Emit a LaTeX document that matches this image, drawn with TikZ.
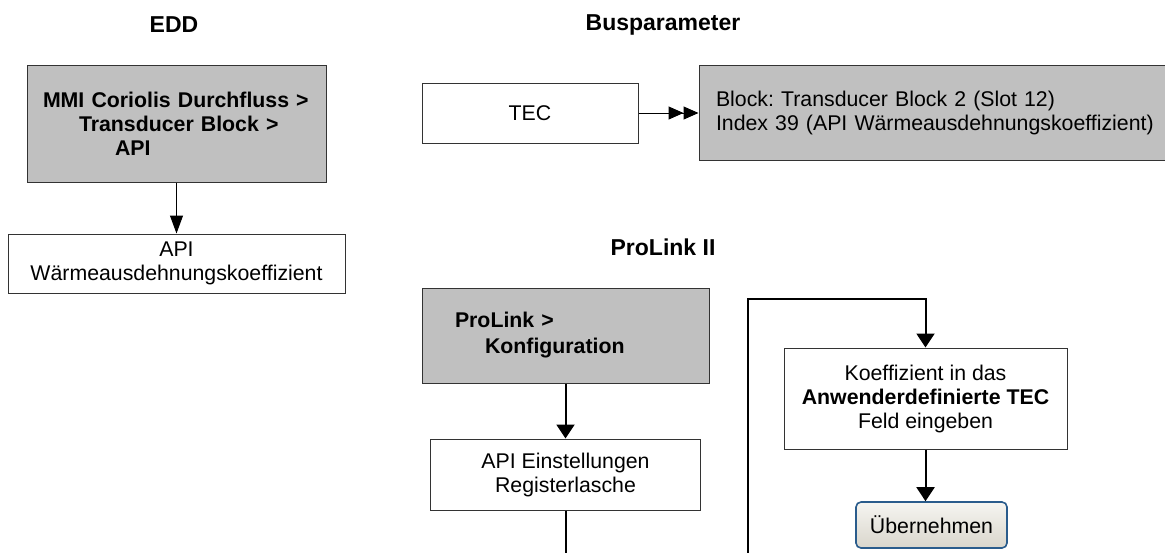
\documentclass[tikz,border=0pt]{standalone}
\usepackage{fontspec}
\setmainfont{Liberation Sans}
\usetikzlibrary{arrows.meta,positioning}
\definecolor{menugray}{HTML}{C0C0C0}
\definecolor{framegray}{HTML}{333333}
\definecolor{buttonblue}{HTML}{2A5C8C}
\definecolor{buttontop}{HTML}{F6F5F1}
\definecolor{buttonbot}{HTML}{D9D6CC}

\begin{document}
\frenchspacing
\begin{tikzpicture}[
    x=0.5pt, y=-0.5pt,
    every node/.style={font=\fontsize{10.65}{12}\selectfont},
    title/.style={
        font=\bfseries\fontsize{11.5}{13}\selectfont
    },
    box/.style={
        draw=framegray,
        line width=0.5pt,
        align=center,
        inner sep=0pt
    },
    graybox/.style={
        box,
        fill=menugray,
        align=left
    },
    button/.style={
        draw=buttonblue,
        line width=0.8pt,
        rounded corners=2.5pt,
        top color=buttontop,
        bottom color=buttonbot,
        inner sep=0pt
    },
    arrow/.style={
        -{Triangle[length=9pt,width=6.5pt]},
        line width=0.5pt
    },
    flow/.style={
        -{Triangle[length=7pt,width=9pt]},
        line width=1pt
    },
    busarrow/.style={
        -{Triangle[length=7.5pt,width=6.5pt,sep=0pt]Triangle[length=7.5pt,width=6.5pt]},
        line width=0.5pt
    }
]
\useasboundingbox (0,0) rectangle (1165,552);

% section titles
\node[title] (eddtitle) at (174,25) {EDD};
\node[title] (bustitle) at (663,25) {Busparameter};
\node[title] (prolinktitle) at (663,247) {ProLink II};

% EDD
\node[graybox, text width=149.5pt, minimum height=58.5pt,
      font=\bfseries\fontsize{10.65}{12}\selectfont] (eddmenu) at (176.5,123.5)
    {\hspace*{8pt}MMI Coriolis Durchfluss >\\
     \hspace*{26pt}Transducer Block >\\
     \hspace*{44pt}API};
\node[box, below=25.5pt of eddmenu, minimum width=168.5pt, minimum height=29.5pt] (eddparam)
    {API\\Wärmeausdehnungskoeffizient};

\draw[arrow] (eddmenu) -- (eddparam);

% Busparameter
\node[box, minimum width=108pt, minimum height=30pt] (tec) at (530,113) {TEC};
\node[graybox, right=30pt of tec, inner xsep=8.5pt, text width=221.5pt, minimum height=47.5pt] (busblock)
    {Block: Transducer Block 2 (Slot 12)\\
     Index 39 (API Wärmeausdehnungskoeffizient)};

\draw[busarrow] (tec) -- (busblock);

% ProLink II
\node[graybox, text width=143.5pt, minimum height=47.5pt,
      font=\bfseries\fontsize{10.65}{13}\selectfont] (prolinkmenu) at (565.5,335.5)
    {\hspace*{16.5pt}ProLink >\\
     \hspace*{31.5pt}Konfiguration};
\node[box, below=27.5pt of prolinkmenu, minimum width=135pt, minimum height=35.5pt] (apitab)
    {API Einstellungen\\Registerlasche};

\node[box, minimum width=141.5pt, minimum height=50.5pt] (koeff) at (925.5,398.5)
    {Koeffizient in das\\\textbf{Anwenderdefinierte TEC}\\Feld eingeben};
\node[button, minimum width=75.5pt, minimum height=23pt] (apply) at (931.5,525) {Übernehmen};

\coordinate (tabend) at (566,560);
\coordinate (loopstart) at (748,560);
\coordinate (loopturn) at (748,299);

\draw[flow] (prolinkmenu) -- (apitab);
\draw[line width=1pt] (apitab.south) -- (apitab.south |- tabend);
\draw[flow] (loopstart) -- (loopturn) -| (koeff.north);
\draw[flow] (koeff.south) -- (koeff.south |- apply.north);

\end{tikzpicture}
\end{document}
